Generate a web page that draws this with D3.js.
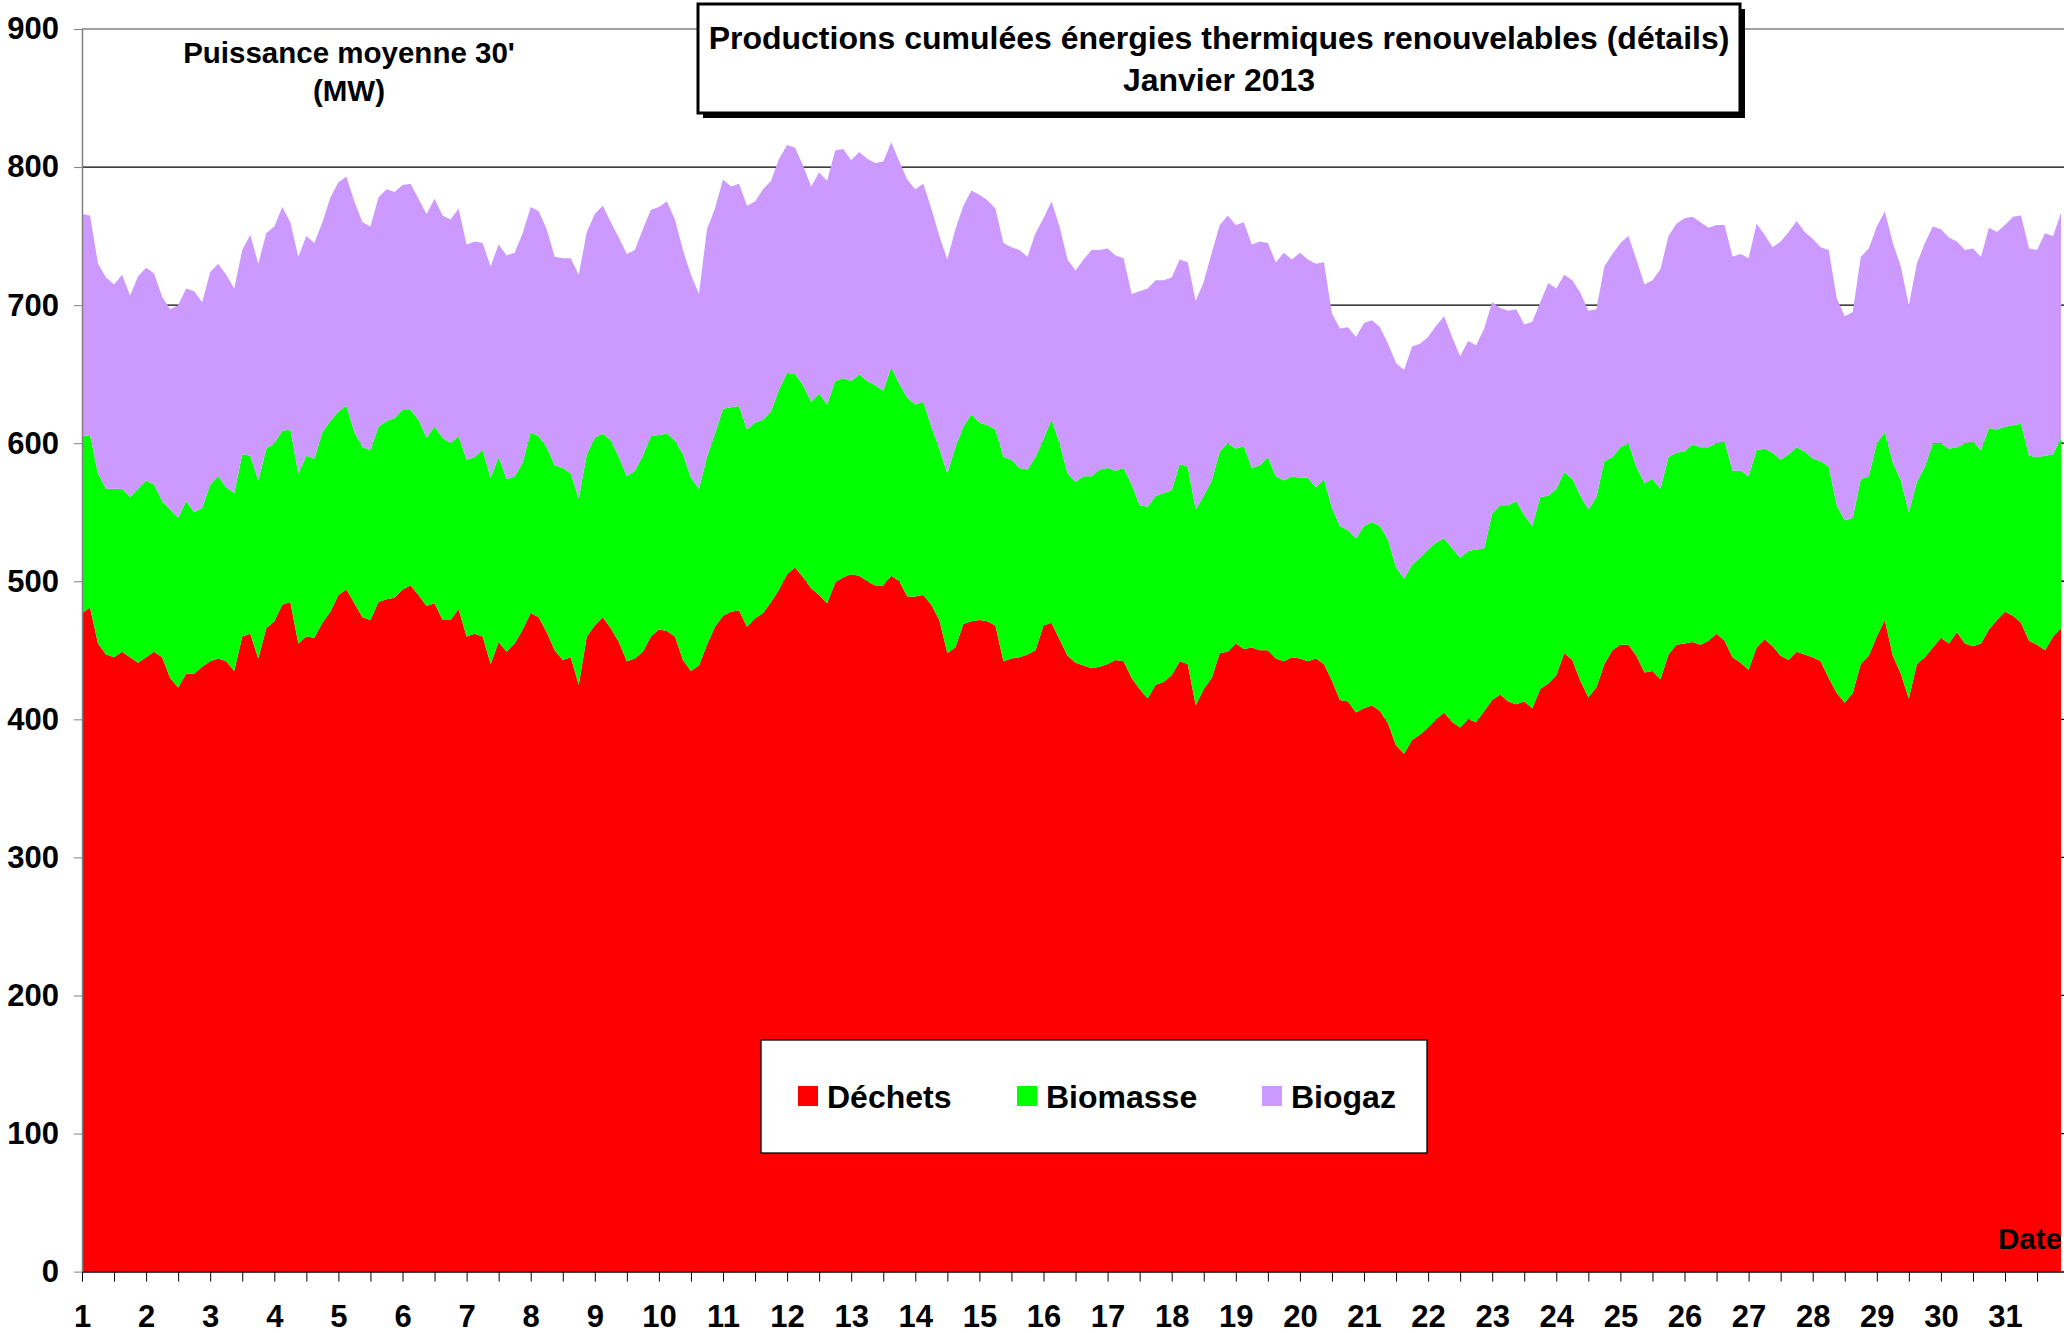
<!DOCTYPE html>
<html>
<head>
<meta charset="utf-8">
<script src="https://cdn.jsdelivr.net/npm/d3@7/dist/d3.min.js"></script>
<style>
body { margin: 0; background: #fff; }
text { font-family: "Liberation Sans", Arial, sans-serif; font-weight: bold; fill: #000; }
.tick text { font-size: 31px; }
</style>
</head>
<body>
<div id="chart-area"></div>
<script>
// one value every 3 hours, 1 -> 31 janvier 2013 (MW)
let stepHours = 3;

let dayLabels = ["1","2","3","4","5","6","7","8","9","10","11","12","13","14","15","16",
                 "17","18","19","20","21","22","23","24","25","26","27","28","29","30","31"];

let yTicks = [0, 100, 200, 300, 400, 500, 600, 700, 800, 900];

let seriesNames = ["Déchets", "Biomasse", "Biogaz"];

let dechets = [
    477,481,455,447,445,449,445,441,445,449, 445,430,423,433,433,438,442,444,442,435,
    460,462,444,466,471,483,485,455,460,459, 470,478,490,494,484,474,472,485,487,488,
    494,497,490,482,484,472,472,480,460,462, 460,440,456,449,455,465,477,474,463,450,
    443,445,425,460,468,474,466,456,442,444, 449,460,465,464,460,443,435,439,454,467,
    475,478,479,467,473,477,485,494,505,510, 503,495,490,484,499,503,505,504,500,497,
    497,504,500,489,489,490,483,472,448,452, 469,471,472,471,468,442,444,445,447,450,
    468,470,458,446,441,439,437,438,440,443, 442,430,422,415,425,427,432,442,440,410,
    422,430,448,449,455,451,452,450,450,444, 442,445,444,442,444,440,428,414,413,405,
    408,410,406,397,381,375,385,389,394,400, 405,398,394,400,398,406,414,418,413,411,
    413,408,422,426,432,448,443,428,416,423, 440,450,454,454,446,434,435,429,447,454,
    455,456,454,457,462,457,445,441,436,452, 458,453,446,443,449,447,445,442,430,419,
    412,419,440,446,460,472,446,433,415,440, 445,452,459,455,463,455,453,455,465,472,
    478,475,470,457,454,450,460,466
];

let biomasse = [
    128,125,123,120,122,118,116,126,128,121, 113,122,123,125,117,115,128,132,126,129,
    132,129,129,130,129,126,125,123,131,130, 138,138,133,133,124,123,123,127,129,130,
    130,127,127,122,128,132,128,125,128,128, 135,135,134,125,121,121,131,131,134,134,
    139,133,135,132,136,133,136,134,134,136, 142,145,141,143,142,149,140,128,136,140,
    150,148,148,143,142,140,138,145,146,140, 139,135,146,144,146,144,140,146,145,145,
    141,151,143,144,139,140,129,124,130,145, 143,150,143,142,142,148,144,137,134,140,
    135,147,142,132,131,137,139,143,142,137, 140,140,133,139,137,137,134,143,143,142,
    140,143,146,151,141,147,130,134,140,132, 131,131,131,133,124,134,125,126,124,126,
    132,133,134,133,129,127,127,128,129,128, 126,126,123,122,125,118,135,137,142,147,
    135,132,139,136,135,131,131,134,136,138, 147,140,143,146,137,137,139,138,143,139,
    139,143,143,140,138,144,135,139,140,143, 138,140,142,149,148,147,144,145,153,136,
    132,127,134,130,140,136,140,140,135,132, 138,148,141,141,134,145,148,140,146,138,
    134,138,144,134,136,141,132,138
];

let biogaz = [
    161,159,152,153,148,155,146,154,154,153, 148,145,154,154,160,149,154,154,154,148,
    148,160,157,156,157,162,150,157,159,156, 152,162,166,166,167,163,162,166,168,164,
    163,164,160,162,165,161,162,165,156,156, 150,153,154,162,162,166,163,163,158,151,
    152,156,162,161,162,165,158,159,161,160, 164,164,165,168,160,148,147,141,165,163,
    166,160,161,162,160,167,167,167,165,164, 159,156,160,162,167,166,160,161,161,161,
    166,163,161,158,156,158,158,154,155,158, 160,162,165,163,160,155,154,158,154,162,
    160,158,157,155,153,157,164,159,159,156, 152,138,155,158,156,154,154,148,148,151,
    155,165,164,165,162,162,162,162,155,155, 165,157,163,158,162,157,141,143,147,146,
    147,146,144,142,148,151,158,155,154,157, 161,153,146,152,148,159,153,143,141,139,
    138,148,141,154,145,143,144,147,144,136, 141,147,148,150,150,144,144,159,160,166,
    169,165,163,159,158,157,155,157,158,164, 155,149,158,161,164,159,159,155,157,150,
    148,149,161,165,157,160,159,155,150,158, 162,157,155,153,149,140,140,140,145,143,
    146,151,151,150,150,161,158,163
];

let colors = ["#ff0000", "#00ff00", "#cc99ff"];

let width = 2064;
let height = 1333;
let plotLeft = 82, plotRight = 2064, plotTop = 29, plotBottom = 1271.6;

let svg = d3.select("#chart-area")
            .append("svg")
            .attr("width", width)
            .attr("height", height);

let data = dechets.map(function(d, i){
    return { day: 1 + i * stepHours / 24, "Déchets": d, "Biomasse": biomasse[i], "Biogaz": biogaz[i] };
});

let stacked = d3.stack().keys(seriesNames)(data);

let xScale = d3.scaleLinear()
               .domain([1, 32])
               .range([plotLeft, plotLeft + 31 * 64.1]);

let yScale = d3.scaleLinear()
               .domain([0, 900])
               .range([plotBottom, plotTop]);

// GRIDLINES
svg.append("g")
   .selectAll("line")
   .data(yTicks.slice(1))
   .enter()
   .append("line")
   .attr("x1", plotLeft)
   .attr("x2", plotRight)
   .attr("y1", function(d){ return yScale(d); })
   .attr("y2", function(d){ return yScale(d); })
   .attr("stroke", function(d){ return d == 900 ? "#808080" : "#000"; })
   .attr("stroke-width", 1.3);

// AREAS
let area = d3.area()
             .x(function(d){ return xScale(d.data.day); })
             .y0(function(d){ return yScale(d[0]); })
             .y1(function(d){ return yScale(d[1]); });

svg.append("g")
   .selectAll("path")
   .data(stacked)
   .enter()
   .append("path")
   .attr("d", area)
   .attr("fill", function(d, i){ return colors[i]; });

// X AXIS
let xAxis = d3.axisBottom(xScale)
              .tickValues(d3.range(1, 32, 0.5))
              .tickSize(10)
              .tickSizeOuter(0)
              .tickPadding(23)
              .tickFormat(function(d){ return Number.isInteger(d) ? dayLabels[d - 1] : ""; });

let gx = svg.append("g")
            .attr("class", "x-axis")
            .attr("transform", "translate(0," + plotBottom + ")")
            .call(xAxis);
gx.select(".domain").attr("stroke", "#000").attr("stroke-width", 1.5);
gx.selectAll(".tick line").attr("stroke", "#000");

// Y AXIS
let yAxis = d3.axisLeft(yScale)
              .tickValues(yTicks)
              .tickSize(8)
              .tickSizeOuter(0)
              .tickPadding(15);

let gy = svg.append("g")
            .attr("class", "y-axis")
            .attr("transform", "translate(" + plotLeft + ",0)")
            .call(yAxis);
gy.select(".domain").attr("stroke", "#808080").attr("stroke-width", 1.5);
gy.selectAll(".tick line").attr("stroke", "#808080");

// Y LABEL
svg.append("text")
   .attr("x", 349)
   .attr("y", 63)
   .attr("font-size", "29.5px")
   .attr("text-anchor", "middle")
   .text("Puissance moyenne 30'");

svg.append("text")
   .attr("x", 349)
   .attr("y", 101)
   .attr("font-size", "29.5px")
   .attr("text-anchor", "middle")
   .text("(MW)");

// X LABEL
svg.append("text")
   .attr("x", 2062)
   .attr("y", 1249)
   .attr("font-size", "29.5px")
   .attr("text-anchor", "end")
   .text("Date");

// TITLE
svg.append("rect")
   .attr("x", 703)
   .attr("y", 9)
   .attr("width", 1042)
   .attr("height", 109)
   .attr("fill", "#000");

svg.append("rect")
   .attr("x", 698)
   .attr("y", 4)
   .attr("width", 1042)
   .attr("height", 109)
   .attr("fill", "#fff")
   .attr("stroke", "#000")
   .attr("stroke-width", 3);

svg.append("text")
   .attr("x", 1219)
   .attr("y", 49)
   .attr("font-size", "32px")
   .attr("text-anchor", "middle")
   .text("Productions cumulées énergies thermiques renouvelables (détails)");

svg.append("text")
   .attr("x", 1219)
   .attr("y", 91)
   .attr("font-size", "32px")
   .attr("text-anchor", "middle")
   .text("Janvier 2013");

// LEGEND
svg.append("rect")
   .attr("x", 761)
   .attr("y", 1040)
   .attr("width", 666)
   .attr("height", 113)
   .attr("fill", "#fff")
   .attr("stroke", "#000")
   .attr("stroke-width", 1.3);

let legendX = [798, 1017, 1262];

let legend = svg.append("g")
                .selectAll("g")
                .data(seriesNames)
                .enter()
                .append("g")
                .attr("transform", function(d, i){ return "translate(" + legendX[i] + ",1086)"; });

legend.append("rect")
      .attr("width", 20)
      .attr("height", 20)
      .attr("fill", function(d, i){ return colors[i]; });

legend.append("text")
      .attr("x", 29)
      .attr("y", 22)
      .attr("font-size", "32px")
      .text(function(d){ return d; });
</script>
</body>
</html>
